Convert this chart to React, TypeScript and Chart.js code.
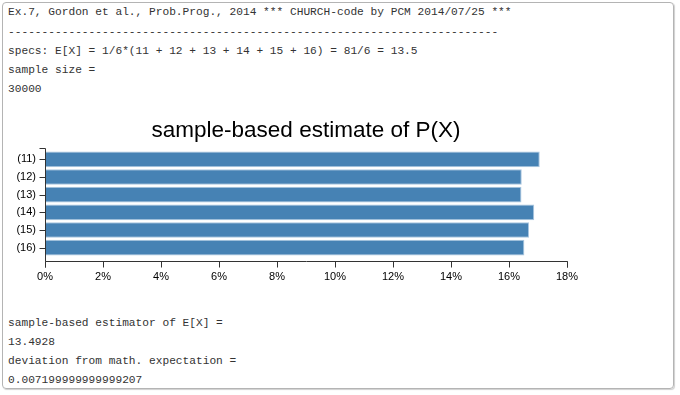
import React, { useEffect, useRef } from "react";
import { Chart, registerables } from "chart.js";

Chart.register(...registerables);

const categories = ["(11)", "(12)", "(13)", "(14)", "(15)", "(16)"];
const estimates = [0.1706, 0.1644, 0.1643, 0.1687, 0.1669, 0.1653];
const xTicks = [0, 0.02, 0.04, 0.06, 0.08, 0.1, 0.12, 0.14, 0.16, 0.18];
const titleText = "sample-based estimate of P(X)";

const headerLines = [
  "Ex.7, Gordon et al., Prob.Prog., 2014 *** CHURCH-code by PCM 2014/07/25 ***",
  "-------------------------------------------------------------------------",
  "specs: E[X] = 1/6*(11 + 12 + 13 + 14 + 15 + 16) = 81/6 = 13.5",
  "sample size =",
  "30000",
];
const footerLines = [
  "sample-based estimator of E[X] =",
  "13.4928",
  "deviation from math. expectation =",
  "0.007199999999999207",
];

const axisPlugin = {
  id: "d3axes",
  afterDraw(chart: any) {
    const ctx = chart.ctx;
    const area = chart.chartArea;
    const xs = chart.scales.x;
    const left = Math.round(area.left) + 0.5;
    const top = Math.round(area.top - 3) + 0.5;
    const bottom = Math.round(area.bottom + 4) + 0.5;
    ctx.save();
    ctx.strokeStyle = "#333";
    ctx.lineWidth = 1;
    ctx.beginPath();
    ctx.moveTo(left - 6, top);
    ctx.lineTo(left, top);
    ctx.lineTo(left, bottom);
    const ys = chart.scales.y;
    for (let i = 0; i < categories.length; i++) {
      const y = Math.round(ys.getPixelForValue(i)) + 0.5;
      ctx.moveTo(left - 6, y);
      ctx.lineTo(left, y);
    }
    const x0 = Math.round(xs.getPixelForValue(xTicks[0])) + 0.5;
    const x1 = Math.round(xs.getPixelForValue(xTicks[xTicks.length - 1])) + 0.5;
    ctx.moveTo(x0, bottom + 6);
    ctx.lineTo(x0, bottom);
    ctx.lineTo(x1, bottom);
    ctx.lineTo(x1, bottom + 6);
    for (const t of xTicks) {
      const x = Math.round(xs.getPixelForValue(t)) + 0.5;
      ctx.moveTo(x, bottom);
      ctx.lineTo(x, bottom + 6);
    }
    ctx.stroke();
    ctx.restore();
  },
};

function ChartBox() {
  const ref = useRef<HTMLCanvasElement>(null);
  useEffect(() => {
    if (!ref.current) return;
    const chart = new Chart(ref.current, {
      type: "bar",
      data: {
        labels: categories,
        datasets: [
          {
            data: estimates,
            backgroundColor: "#4682b4",
            borderColor: "#a9c6e0",
            borderWidth: 1,
            borderSkipped: false,
            barPercentage: 0.89,
            categoryPercentage: 1,
          },
        ],
      },
      options: {
        indexAxis: "y",
        animation: false,
        responsive: false,
        maintainAspectRatio: false,
        layout: { padding: { left: 0, right: 113, top: 0, bottom: 0 } },
        plugins: {
          legend: { display: false },
          tooltip: { enabled: false },
          title: {
            display: true,
            text: titleText,
            fullSize: false,
            color: "#000",
            font: { family: "Arial, 'Liberation Sans', sans-serif", size: 22.5, weight: "normal", lineHeight: 1.2 },
            padding: { top: 17.5, bottom: 6 },
          },
        },
        scales: {
          x: {
            type: "linear",
            min: 0,
            max: 0.18,
            grid: { display: false, drawTicks: false },
            border: { display: false },
            afterFit: (s: any) => {
              s.height = 43.5;
            },
            afterBuildTicks: (s: any) => {
              s.ticks = xTicks.map((v) => ({ value: v }));
            },
            ticks: {
              padding: 14,
              color: "#000",
              font: { family: "Arial, 'Liberation Sans', sans-serif", size: 11 },
              callback: (v: any) => Math.round(Number(v) * 100) + "%",
              maxRotation: 0,
              autoSkip: false,
            },
          },
          y: {
            type: "category",
            offset: true,
            grid: { display: false, drawTicks: false },
            border: { display: false },
            afterFit: (s: any) => {
              s.width = 45;
            },
            ticks: {
              padding: 9,
              color: "#000",
              font: { family: "Arial, 'Liberation Sans', sans-serif", size: 11 },
            },
          },
        },
      },
      plugins: [axisPlugin],
    });
    return () => chart.destroy();
  }, []);
  return (
    <canvas
      ref={ref}
      width={680}
      height={200}
      style={{ position: "absolute", left: 0, top: 100, width: 680, height: 200 }}
    />
  );
}

const mono: React.CSSProperties = {
  position: "absolute",
  left: 8,
  fontFamily: "'Courier New', 'Liberation Mono', monospace",
  fontSize: 11.2,
  lineHeight: "19px",
  color: "#333",
  whiteSpace: "pre",
  margin: 0,
};

export default function App() {
  const headerCenters = [12, 32, 51, 70, 89];
  const footerCenters = [323, 342, 361, 380];
  return (
    <div style={{ position: "absolute", left: 0, top: 0, width: 680, height: 395, background: "#fff", overflow: "hidden" }}>
      <div
        style={{
          position: "absolute",
          left: 2,
          top: 2,
          width: 670,
          height: 385,
          border: "1px solid #b4b4b4",
          borderRadius: 4,
          boxShadow: "1px 1px 1px #d0d0d0",
        }}
      />
      {headerLines.map((t, i) => (
        <div key={"h" + i} style={{ ...mono, top: headerCenters[i] - 9.5 }}>
          {t}
        </div>
      ))}
      <ChartBox />
      {footerLines.map((t, i) => (
        <div key={"f" + i} style={{ ...mono, top: footerCenters[i] - 9.5 }}>
          {t}
        </div>
      ))}
    </div>
  );
}
